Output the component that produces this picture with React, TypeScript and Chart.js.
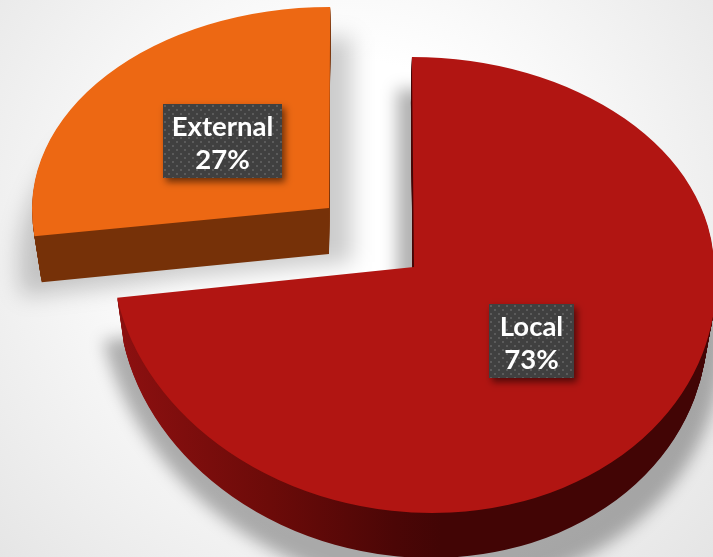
import React, { useEffect, useRef } from "react";
import { Chart, registerables } from "chart.js";

Chart.register(...registerables);

const categories = ["Local", "External"];
const shares = [73, 27];
const faceColors = ["#b11512", "#ed6813"];

type Half = { a: number; c: number; d: number };
type ShadowPass = { apex: [number, number]; upper: Half; lower: Half };
type SliceLook = {
  apex: [number, number];
  upper: Half;
  lower: Half;
  depth: number;
  shrink: number;
  wallShift: number;
  wallStops: [number, string][];
  shadow: { passes: ShadowPass[]; blur: number; alpha: number };
  box: { x: number; y: number; w: number; h: number };
};

// Tilted-plate look of each slice: a squashed circle with a different squash
// above and below the slice tip, which fakes the perspective of a 3D pie.
const sliceLooks: SliceLook[] = [
  {
    apex: [414, 267],
    upper: { a: 1.0, c: 0.007, d: 0.7 },
    lower: { a: 1.005, c: 0.06, d: 0.82 },
    depth: 45,
    shrink: 0.025,
    wallShift: -1,
    wallStops: [
      [0, "#8c1010"],
      [0.45, "#6c0b09"],
      [0.85, "#4b0606"],
      [1, "#420505"],
    ],
    shadow: {
      passes: [
        {
          apex: [397, 305],
          upper: { a: 1.0, c: 0, d: 0.72 },
          lower: { a: 1.0, c: 0.11, d: 0.95 },
        },
        {
          apex: [410, 305],
          upper: { a: 1.0, c: 0, d: 0.4 },
          lower: { a: 1.04, c: 0.11, d: 0.95 },
        },
      ],
      blur: 8,
      alpha: 0.3,
    },
    box: { x: 489, y: 304, w: 85, h: 74 },
  },
  {
    apex: [329, 208],
    upper: { a: 0.99, c: -0.004, d: 0.67 },
    lower: { a: 0.99, c: 0, d: 0.75 },
    depth: 46,
    shrink: 0.025,
    wallShift: 0,
    wallStops: [
      [0, "#763108"],
      [1, "#763108"],
    ],
    shadow: {
      passes: [
        {
          apex: [352, 262],
          upper: { a: 1.11, c: 0, d: 0.75 },
          lower: { a: 1.11, c: 0, d: 0.9 },
        },
      ],
      blur: 11,
      alpha: 0.2,
    },
    box: { x: 163, y: 104, w: 119, h: 74 },
  },
];

function drawSlice(
  ctx: CanvasRenderingContext2D,
  arc: any,
  apex: [number, number],
  upper: Half,
  lower: Half,
  fill: string | CanvasGradient,
  narrowing = 1,
) {
  const width = ctx.canvas.width;
  const height = ctx.canvas.height;
  const saved = arc.options;
  arc.options = Object.assign(Object.create(saved), { backgroundColor: fill, borderWidth: 0 });
  [upper, lower].forEach((half, i) => {
    ctx.save();
    ctx.beginPath();
    if (i === 0) ctx.rect(0, 0, width, apex[1]);
    else ctx.rect(0, apex[1], width, height - apex[1]);
    ctx.clip();
    ctx.translate(apex[0], apex[1]);
    ctx.transform(half.a * narrowing, 0, half.c, half.d, 0, 0);
    ctx.translate(-arc.x, -arc.y);
    arc.draw(ctx);
    ctx.restore();
  });
  arc.options = saved;
}

const dotTile = () => {
  const tile = document.createElement("canvas");
  tile.width = 8;
  tile.height = 8;
  const t = tile.getContext("2d")!;
  t.fillStyle = "#404040";
  t.fillRect(0, 0, 8, 8);
  t.fillStyle = "#5b5b5b";
  t.fillRect(1, 1, 2, 2);
  t.fillRect(5, 5, 2, 2);
  return tile;
};

const piePlate = {
  id: "piePlate",
  beforeDatasetsDraw(chart: any) {
    const ctx: CanvasRenderingContext2D = chart.ctx;
    const { width, height } = chart;
    const arcs = chart.getDatasetMeta(0).data;

    // Backdrop
    const glow = ctx.createRadialGradient(350, 230, 170, 350, 230, 520);
    glow.addColorStop(0, "#ffffff");
    glow.addColorStop(1, "#e2e2e2");
    ctx.fillStyle = glow;
    ctx.fillRect(0, 0, width, height);

    // Cast shadows, blurred as one image so the pieces have no seam
    sliceLooks.forEach((look, i) => {
      const sheet = document.createElement("canvas");
      sheet.width = width + 80;
      sheet.height = height + 80;
      const sctx = sheet.getContext("2d")!;
      look.shadow.passes.forEach((pass) => {
        drawSlice(sctx, arcs[i], pass.apex, pass.upper, pass.lower, "#000");
      });
      ctx.save();
      ctx.filter = `blur(${look.shadow.blur}px)`;
      ctx.globalAlpha = look.shadow.alpha;
      ctx.drawImage(sheet, 0, 0);
      ctx.restore();
    });

    // Side walls from the lowest layer up, then the top faces
    [1, 0].forEach((i) => {
      const look = sliceLooks[i];
      const arc = arcs[i];
      const wall = ctx.createLinearGradient(arc.x - 300, 0, arc.x + 10, 0);
      look.wallStops.forEach(([at, color]) => wall.addColorStop(at, color));
      for (let step = look.depth; step >= 1; step--) {
        const k = step / look.depth;
        drawSlice(
          ctx,
          arc,
          [look.apex[0] + look.wallShift * k, look.apex[1] + step],
          look.upper,
          look.lower,
          wall,
          1 - look.shrink * k,
        );
      }
      drawSlice(ctx, arc, look.apex, look.upper, look.lower, faceColors[i]);
    });

    // Value labels on dotted plates
    const pattern = ctx.createPattern(dotTile(), "repeat")!;
    sliceLooks.forEach((look, i) => {
      const { x, y, w, h } = look.box;
      ctx.save();
      ctx.shadowColor = "rgba(0,0,0,0.55)";
      ctx.shadowBlur = 7;
      ctx.shadowOffsetX = 3;
      ctx.shadowOffsetY = 4;
      ctx.fillStyle = "#404040";
      ctx.fillRect(x, y, w, h);
      ctx.restore();
      ctx.save();
      ctx.translate(x, y);
      ctx.fillStyle = pattern;
      ctx.fillRect(0, 0, w, h);
      ctx.restore();
      ctx.fillStyle = "#ffffff";
      ctx.font = 'bold 27.5px "Lato"';
      ctx.textAlign = "center";
      ctx.textBaseline = "middle";
      ctx.fillText(categories[i], x + w / 2, y + 23);
      ctx.fillText(`${shares[i]}%`, x + w / 2, y + 56);
    });

    return false;
  },
};

export default function App() {
  const canvasRef = useRef<HTMLCanvasElement | null>(null);

  useEffect(() => {
    document.body.style.margin = "0";
    const chart = new Chart(canvasRef.current!, {
      type: "pie",
      data: {
        labels: categories,
        datasets: [{ data: shares, backgroundColor: faceColors, borderWidth: 0 }],
      },
      options: {
        responsive: false,
        animation: false,
        radius: 300,
        rotation: 0,
        plugins: { legend: { display: false }, tooltip: { enabled: false } },
      },
      plugins: [piePlate],
    } as any);
    return () => chart.destroy();
  }, []);

  return <canvas ref={canvasRef} width={713} height={557} style={{ display: "block" }} />;
}
